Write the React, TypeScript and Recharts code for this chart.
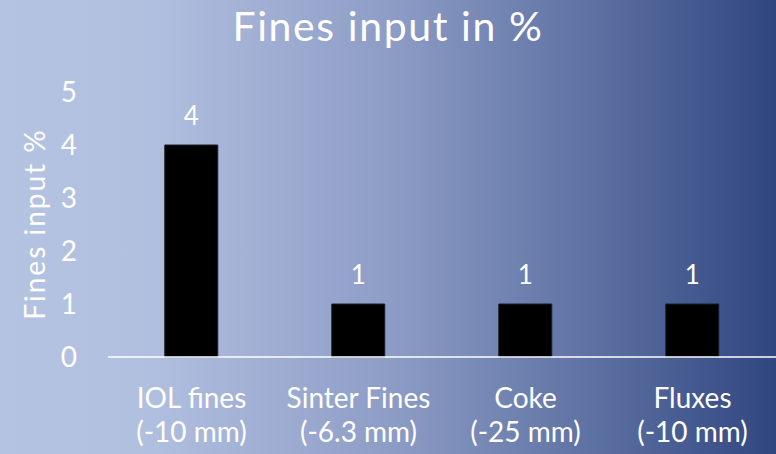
import { BarChart, Bar, XAxis, YAxis, LabelList, Label } from 'recharts'

const materials = ['IOL fines', 'Sinter Fines', 'Coke', 'Fluxes']
const sizes = ['(-10 mm)', '(-6.3 mm)', '(-25 mm)', '(-10 mm)']
const finesInput = [4, 1, 1, 1]
const yTicks = [0, 1, 2, 3, 4, 5]

const data = materials.map((name, i) => ({ name, size: sizes[i], value: finesInput[i] }))

const FONT = 'Lato, "Open Sans", sans-serif'

const CategoryTick = (props: any) => {
  const { x, y, payload } = props
  const size = sizes[payload.index]
  return (
    <g>
      <text x={x} y={y + 51} textAnchor="middle" fill="#fff" fontSize={28} fontFamily={FONT}>
        {payload.value}
      </text>
      <text x={x} y={y + 85} textAnchor="middle" fill="#fff" fontSize={28} fontFamily={FONT}>
        {size}
      </text>
    </g>
  )
}

export default function App() {
  return (
    <div
      style={{
        position: 'fixed',
        top: 0,
        left: 0,
        width: 776,
        height: 454,
        background:
          'linear-gradient(90deg, #b5c3e3 0%, #b2c0e0 18%, #8e9dc6 50%, #5a6ea0 78%, #30467f 100%)',
        fontFamily: FONT,
      }}
    >
      <div
        style={{
          position: 'absolute',
          top: 1,
          left: 3,
          width: 770,
          textAlign: 'center',
          color: '#fff',
          fontSize: 41,
          letterSpacing: 1.6,
          lineHeight: '49px',
        }}
      >
        Fines input in %
      </div>
      <BarChart
        width={776}
        height={454}
        data={data}
        margin={{ top: 92, right: 0, bottom: 0, left: 0 }}
        barCategoryGap="34%"
      >
        <XAxis
          dataKey="name"
          height={97}
          axisLine={{ stroke: '#ffffff', strokeWidth: 1.5 }}
          tickLine={false}
          tickSize={0}
          tickMargin={0}
          tick={<CategoryTick />}
          interval={0}
        />
        <YAxis
          width={108}
          domain={[0, 5]}
          ticks={yTicks}
          axisLine={false}
          tickLine={false}
          tickSize={0}
          tickMargin={31}
          tick={{ fill: '#fff', fontSize: 28, fontFamily: FONT }}
        >
          <Label
            content={() => (
              <text
                x={34}
                y={224}
                transform="rotate(-90 34 224)"
                textAnchor="middle"
                dominantBaseline="central"
                fill="#fff"
                fontSize={28}
                letterSpacing={2}
                fontFamily={FONT}
              >
                Fines input %
              </text>
            )}
          />
        </YAxis>
        <Bar dataKey="value" fill="#000" stroke="#1a1f2e" strokeWidth={1} isAnimationActive={false}>
          <LabelList
            dataKey="value"
            position="top"
            offset={20}
            fill="#fff"
            fontSize={26}
            fontFamily={FONT}
          />
        </Bar>
      </BarChart>
    </div>
  )
}
